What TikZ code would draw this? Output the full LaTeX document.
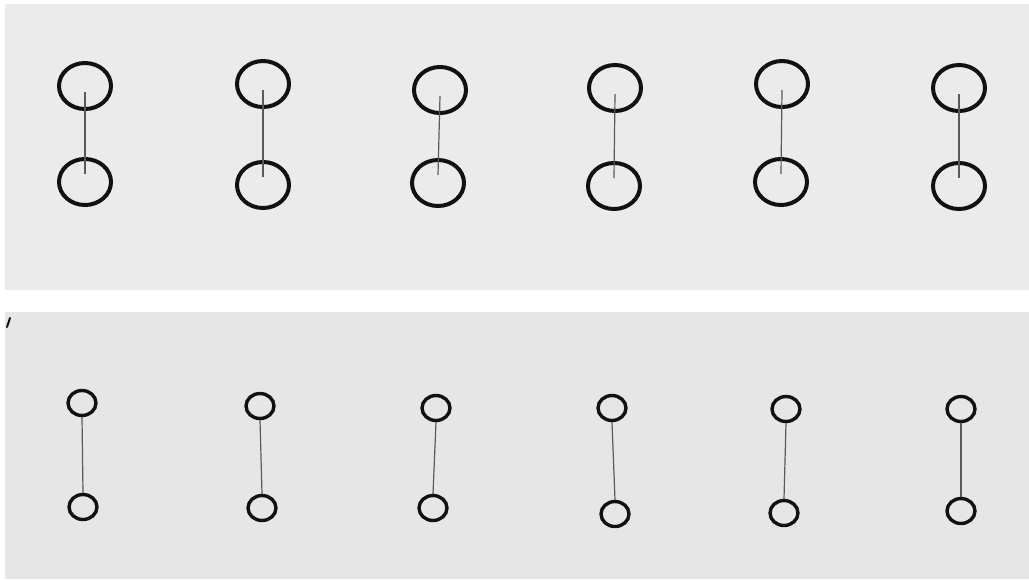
\documentclass[tikz,border=0pt]{standalone}
\usetikzlibrary{shapes.geometric}
\definecolor{panelA}{HTML}{EBEBEB}
\definecolor{panelB}{HTML}{E6E6E6}
\definecolor{ink}{HTML}{111111}
\definecolor{lineink}{HTML}{5A5A5A}
\tikzset{
  bigring/.style={ellipse, draw=ink, line width=4pt, inner sep=0pt, minimum width=52pt, minimum height=46pt},
  smallring/.style={ellipse, draw=ink, line width=3.4pt, inner sep=0pt, minimum width=28pt, minimum height=25pt},
  link/.style={draw=lineink, line width=1.2pt},
}
\begin{document}
\begin{tikzpicture}[x=1pt,y=-1pt]
\useasboundingbox (0,0) rectangle (1029,579);
\fill[white] (0,0) rectangle (1029,579);
\fill[panelA] (5,4) rectangle (1029,290);
\fill[panelB] (5,312) rectangle (1029,579);
% stray mark
\draw[ink, line width=2pt, line cap=round] (10,318) -- (7,327);
% top row
\node[bigring] (t1a) at (85,86) {};
\node[bigring] (t1b) at (85,182) {};
\node[bigring] (t2a) at (263,84) {};
\node[bigring] (t2b) at (263,185) {};
\node[bigring] (t3a) at (440,90) {};
\node[bigring] (t3b) at (438,183) {};
\node[bigring] (t4a) at (615,88) {};
\node[bigring] (t4b) at (614,186) {};
\node[bigring] (t5a) at (782,84) {};
\node[bigring] (t5b) at (781,182) {};
\node[bigring] (t6a) at (959,88) {};
\node[bigring] (t6b) at (959,186) {};
\foreach \i in {1,...,6} {
  \draw[link] ([yshift=-6pt]t\i a.center) -- ([yshift=8pt]t\i b.center);
}
% bottom row
\node[smallring] (b1a) at (82,403) {};
\node[smallring] (b1b) at (83,507) {};
\node[smallring] (b2a) at (260,406) {};
\node[smallring] (b2b) at (262,508) {};
\node[smallring] (b3a) at (436,408) {};
\node[smallring] (b3b) at (433,508) {};
\node[smallring] (b4a) at (612,408) {};
\node[smallring] (b4b) at (615,514) {};
\node[smallring] (b5a) at (786,409) {};
\node[smallring] (b5b) at (784,513) {};
\node[smallring] (b6a) at (961,409) {};
\node[smallring] (b6b) at (961,511) {};
\foreach \i in {1,...,6} {
  \draw[link] (b\i a.south) -- (b\i b.north);
}
\end{tikzpicture}
\end{document}
